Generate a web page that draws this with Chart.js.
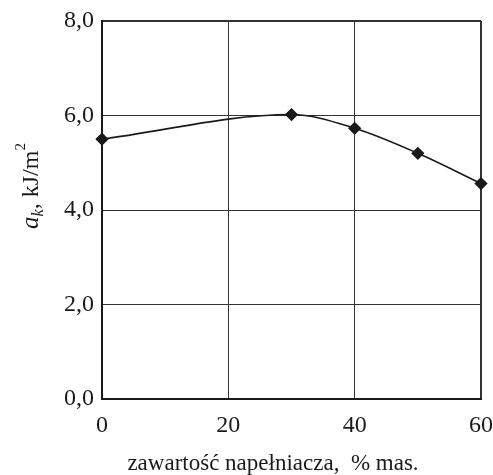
<!DOCTYPE html>
<html>
<head>
<meta charset="utf-8">
<script src="https://cdn.jsdelivr.net/npm/chart.js@4"></script>
<style>
  html, body { margin: 0; padding: 0; background: #fff; }
  #wrap { width: 493px; height: 475px; }
</style>
</head>
<body>
<div id="wrap"><canvas id="chart" width="493" height="475"></canvas></div>
<script>
// data
const fillerContent = [0, 30, 40, 50, 60];
const impactStrength = [5.5, 6.02, 5.73, 5.2, 4.56];
const xTicks = [0, 20, 40, 60];
const yTicks = [0, 2, 4, 6, 8];
const xTitle = 'zawartość napełniacza,  % mas.';
const yTitle = { symbol: 'a', sub: 'k', unit: ', kJ/m', sup: '2' };

const ink = '#1a1a1a';
const serif = '"Liberation Serif", "DejaVu Serif", serif';

// axis titles drawn by hand (italic symbol, subscript, superscript)
const titles = {
    id: 'titles',
    afterDraw(chart) {
        const ctx = chart.ctx;
        ctx.save();
        ctx.fillStyle = ink;
        ctx.textBaseline = 'alphabetic';

        ctx.font = '23px ' + serif;
        ctx.textAlign = 'center';
        ctx.fillText(xTitle, 273, 470);

        // y title, rotated
        ctx.translate(38, 186);
        ctx.rotate(-Math.PI / 2);
        const parts = [
            { t: yTitle.symbol, f: 'italic 25px ' + serif, dy: 0 },
            { t: yTitle.sub, f: 'italic 16px ' + serif, dy: 5 },
            { t: yTitle.unit, f: '24px ' + serif, dy: 0 },
            { t: yTitle.sup, f: '15px ' + serif, dy: -13 }
        ];
        let w = 0;
        parts.forEach(p => { ctx.font = p.f; w += ctx.measureText(p.t).width; });
        let x = -w / 2;
        ctx.textAlign = 'left';
        parts.forEach(p => {
            ctx.font = p.f;
            ctx.fillText(p.t, x, p.dy);
            x += ctx.measureText(p.t).width;
        });
        ctx.restore();
    }
};

const edgeWidth = (ctx, max) => (ctx.tick && (ctx.tick.value === 0 || ctx.tick.value === max)) ? 2 : 1;

new Chart(document.getElementById('chart'), {
    type: 'line',
    data: {
        datasets: [{
            data: fillerContent.map((x, i) => ({ x: x, y: impactStrength[i] })),
            borderColor: ink,
            borderWidth: 1.6,
            cubicInterpolationMode: 'monotone',
            pointStyle: 'rectRot',
            pointRadius: 5.5,
            pointBackgroundColor: ink,
            pointBorderColor: ink,
            clip: false
        }]
    },
    options: {
        responsive: false,
        animation: false,
        layout: { padding: { left: 0, top: 21, right: 12, bottom: 0 } },
        plugins: { legend: { display: false }, tooltip: { enabled: false } },
        scales: {
            x: {
                type: 'linear',
                min: 0, max: 60,
                afterBuildTicks: s => { s.ticks = xTicks.map(v => ({ value: v })); },
                afterFit: s => { s.height = 76; s.paddingRight = 0; s.paddingLeft = 0; },
                ticks: {
                    color: ink,
                    font: { family: serif, size: 24 },
                    padding: 12
                },
                grid: {
                    color: '#333',
                    lineWidth: ctx => edgeWidth(ctx, 60),
                    drawTicks: false
                },
                border: { color: ink, width: 2 }
            },
            y: {
                min: 0, max: 8,
                afterBuildTicks: s => { s.ticks = yTicks.map(v => ({ value: v })); },
                afterFit: s => { s.width = 102; s.paddingTop = 0; s.paddingBottom = 0; },
                ticks: {
                    color: ink,
                    font: { family: serif, size: 24 },
                    padding: 8,
                    callback: v => v.toFixed(1).replace('.', ',')
                },
                grid: {
                    color: '#333',
                    lineWidth: ctx => edgeWidth(ctx, 8),
                    drawTicks: false
                },
                border: { color: ink, width: 2 }
            }
        }
    },
    plugins: [titles]
});
</script>
</body>
</html>
